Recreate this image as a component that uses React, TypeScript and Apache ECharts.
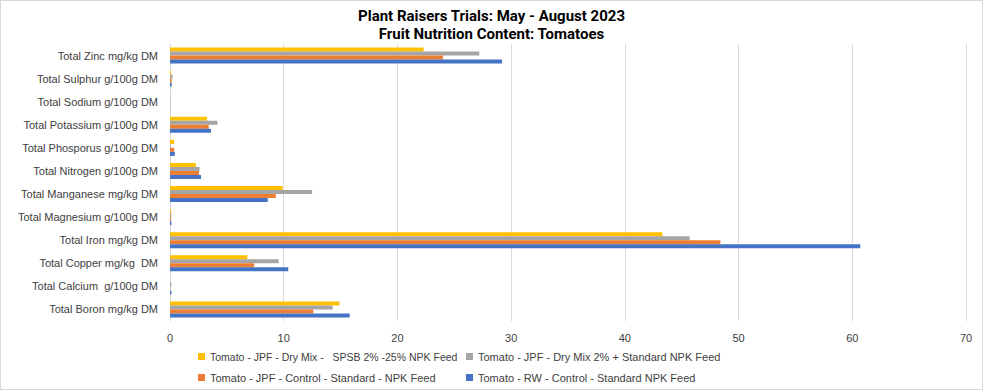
import React, { useEffect, useRef } from "react";
import * as echarts from "echarts";

const categories = [
  "Total Boron mg/kg DM",
  "Total Calcium  g/100g DM",
  "Total Copper mg/kg  DM",
  "Total Iron mg/kg DM",
  "Total Magnesium g/100g DM",
  "Total Manganese mg/kg DM",
  "Total Nitrogen g/100g DM",
  "Total Phosporus g/100g DM",
  "Total Potassium g/100g DM",
  "Total Sodium g/100g DM",
  "Total Sulphur g/100g DM",
  "Total Zinc mg/kg DM",
];

const seriesNames = [
  "Tomato - JPF - Dry Mix -   SPSB 2% -25% NPK Feed",
  "Tomato - JPF - Dry Mix 2% + Standard NPK Feed",
  "Tomato - JPF - Control - Standard - NPK Feed",
  "Tomato - RW - Control - Standard NPK Feed",
];

const yellowValues = [14.9, 0.02, 6.8, 43.3, 0.1, 9.9, 2.27, 0.37, 3.26, 0.02, 0.1, 22.3];
const grayValues = [14.3, 0.12, 9.55, 45.7, 0.12, 12.5, 2.6, 0.05, 4.17, 0.02, 0.22, 27.2];
const orangeValues = [12.6, 0.02, 7.4, 48.4, 0.1, 9.3, 2.55, 0.37, 3.4, 0.02, 0.15, 24.0];
const blueValues = [15.8, 0.12, 10.4, 60.7, 0.12, 8.6, 2.73, 0.42, 3.6, 0.02, 0.15, 29.2];

const colors = ["#FFC000", "#A5A5A5", "#ED7D31", "#4472C4"];
const xTicks = { min: 0, max: 70, interval: 10 };

export default function App() {
  const ref = useRef<HTMLDivElement>(null);
  useEffect(() => {
    document.body.style.margin = "0";
    if (!ref.current) return;
    const chart = echarts.init(ref.current, null, { renderer: "svg" });
    const valuesList = [yellowValues, grayValues, orangeValues, blueValues];
    const legendPos = [
      { left: 192, top: 345, fs: 10.5 },
      { left: 460, top: 345, fs: 11 },
      { left: 192, top: 366, fs: 11 },
      { left: 460, top: 366, fs: 11 },
    ];
    chart.setOption({
      animation: false,
      color: colors,
      title: {
        text: "Plant Raisers Trials: May - August 2023\nFruit Nutrition Content: Tomatoes",
        left: "center",
        top: 6,
        padding: 0,
        textStyle: {
          fontFamily: "Roboto, sans-serif",
          fontSize: 15,
          fontWeight: "bold",
          color: "#000",
          lineHeight: 18,
        },
      },
      legend: seriesNames.map((n, i) => ({
        data: [n],
        left: legendPos[i].left,
        top: legendPos[i].top,
        itemWidth: 7,
        itemHeight: 7,
        itemGap: 0,
        icon: "rect",
        textStyle: { fontSize: legendPos[i].fs, color: "#404040", fontFamily: "Liberation Sans, Arial, sans-serif" },
      })),
      grid: { left: 169, right: 16, top: 43, height: 277, containLabel: false },
      xAxis: {
        type: "value",
        min: xTicks.min,
        max: xTicks.max,
        interval: xTicks.interval,
        axisLabel: { fontSize: 11, color: "#404040", margin: 11, fontFamily: "Liberation Sans, Arial, sans-serif" },
        splitLine: { lineStyle: { color: "#D9D9D9", width: 1 } },
        axisLine: { show: false },
        axisTick: { show: false },
      },
      yAxis: {
        type: "category",
        data: categories,
        axisLabel: { fontSize: 11, color: "#404040", margin: 12, fontFamily: "Liberation Sans, Arial, sans-serif" },
        axisLine: { show: true, lineStyle: { color: "#D9D9D9" } },
        axisTick: { show: false },
      },
      series: seriesNames.map((n, i) => ({
        name: n,
        type: "bar",
        data: valuesList[i],
        barWidth: 4,
        barGap: "0%",
        itemStyle: { color: colors[i] },
      })),
    });
    return () => chart.dispose();
  }, []);
  return (
    <div
      ref={ref}
      style={{ width: 983, height: 390, border: "1px solid #D9D9D9", boxSizing: "border-box", background: "#fff" }}
    />
  );
}
